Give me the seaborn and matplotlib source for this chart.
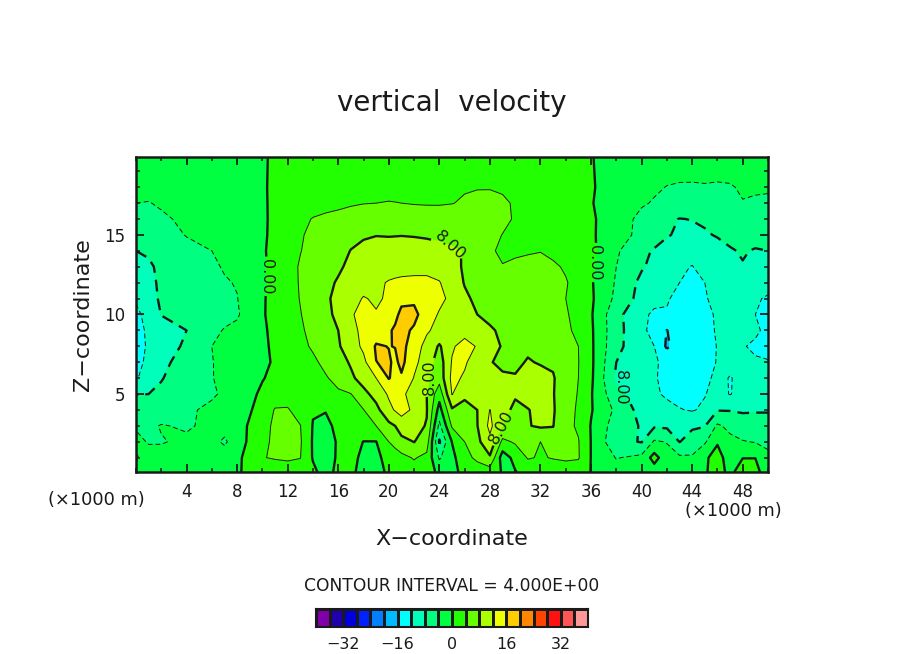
import numpy as np
import matplotlib
matplotlib.use('Agg')
import matplotlib.pyplot as plt
import seaborn as sns
from matplotlib.colors import ListedColormap, BoundaryNorm
from matplotlib.ticker import MultipleLocator

# grid (x in km, z in km, top row first)
x_km = [0, 1, 2, 4, 6, 7, 8, 10, 11, 12, 13, 14, 15, 16, 17, 18, 19, 20, 20.5, 21, 22, 23, 24, 25,
        26, 27, 28, 29, 30, 31, 32, 33, 34, 35, 36, 38, 40, 41, 42, 43, 44, 45, 46, 47, 48, 49, 50]
z_km = [19.9, 18, 17, 16, 15, 14, 13, 12, 11, 10, 9, 8, 7, 6, 5, 4, 3, 2, 1, 0.1]

w_rows = [
    [-2.5,-2.5,-2.4,-2,-1.6,-1.3,-1,-.3,.4,1,1.2,1.4,1.6,1.8,2,2.1,2.2,2.3,2.35,2.4,2.5,2.5,2.5,2.5,2.5,2.5,2.4,2.2,2,1.8,1.6,1.3,1,.7,.1,-.9,-1.6,-1.9,-2.2,-2.4,-2.5,-2.6,-2.6,-2.6,-2.6,-2.7,-2.8],
    [-3.2,-3.2,-3.2,-2.8,-2.2,-1.8,-1.4,-.3,.5,1.2,1.6,2,2.3,2.6,2.9,3.1,3.2,3.3,3.35,3.4,3.4,3.4,3.5,3.6,3.7,3.8,3.8,3.5,3,2.6,2.2,1.7,1.2,.7,.3,-1.5,-3,-3.5,-4.1,-4.3,-4.3,-4.2,-4.3,-4.2,-3.7,-3.8,-3.8],
    [-4,-4.1,-3.7,-3,-2.4,-2,-1.6,-.4,.6,1.4,1.9,2.3,2.7,3.1,3.6,3.9,4,4.1,4.05,4,3.8,3.7,3.7,3.9,4.4,5,5.1,4.6,3.6,2.9,2.4,1.8,1.2,.7,.2,-1.9,-3.6,-4.3,-5,-5.5,-5.6,-5.3,-5.3,-4.9,-4.1,-4.2,-4.3],
    [-5,-5,-4.4,-3.5,-2.8,-2.4,-1.9,-.5,.7,1.8,3,4.2,4.8,5.2,5.6,5.9,6.1,6.2,6.2,6.2,6.1,6,5.9,5.9,6,6,5.9,5,3.6,3,2.6,2,1.4,.8,.5,-2,-5,-6,-7.3,-8.1,-7.9,-7.6,-7,-6.2,-5.5,-5.5,-5.5],
    [-6.5,-6.3,-5,-3.9,-3.2,-2.7,-2,-.5,.8,2,3.7,4.7,5.4,6.2,7,7.6,7.9,7.8,7.85,7.9,7.8,7.6,7.2,6.8,6.6,6.2,5.2,3.9,3.2,2.9,2.6,2.1,1.5,1,.6,-2.6,-4.9,-6,-7.7,-8.6,-8.8,-8.3,-7.8,-7.1,-6.6,-6.5,-6.5],
    [-8,-7.4,-6,-4.7,-4,-3.2,-2.3,-.4,1,2.5,3.9,5,5.7,6.8,8.1,8.9,9.3,9.5,9.5,9.5,9.4,9.3,9.1,8.5,7.8,5.6,4.3,3.6,3.5,3.7,3.9,3.4,2.8,1.6,.9,-3.5,-7,-8.4,-9.5,-10.5,-11,-9.8,-9,-8.3,-7.7,-8.3,-8],
    [-10,-8.7,-7,-5,-4.6,-3.7,-2.8,-.6,1.1,2.8,4.3,5,6.3,7.4,8.9,9.8,10.6,10.9,11,11,11,11,10.5,9.3,7.5,6.5,5,4.1,4.6,4.9,5,4.4,3.7,2.4,.6,-4,-7.6,-9,-11,-11.6,-12.1,-11,-10,-9,-8.2,-8.9,-9],
    [-10.8,-9.2,-7.2,-5.8,-4.9,-4.3,-3.8,-.6,1.2,3,4.2,5.4,7,8.4,9.9,10.8,11.5,12.2,12.4,12.6,12.8,12.8,12.2,10,7.8,6.7,6.2,5.9,5.8,5.7,5.6,5,4.2,3,.4,-4.4,-9,-10,-11,-12,-13,-12,-11,-10.3,-9.5,-10,-10.4],
    [-11.5,-9.3,-7.5,-6.4,-5.6,-4.9,-4.1,-.4,1.2,3,4.1,5.4,7.4,9,10.9,12.2,11.6,12.4,14,15,15.3,14.8,13,11,8.6,7.3,6.8,6.4,6.2,6,5.7,5,4,3,.6,-4.9,-9.5,-11,-11.9,-12.3,-13.6,-12.3,-11,-10.2,-10,-11.5,-12.5],
    [-13,-10.5,-7.9,-7,-5.6,-4.9,-4.4,-.3,1,2.2,3.9,5,7,8.9,11.8,12.6,12.2,13.6,15,17,17,14,11.6,10.4,9.2,8,7,6.5,6.3,6,5.8,5,4.3,3,.4,-6.8,-11.2,-12.6,-12.1,-13,-14,-13,-11.5,-10.6,-10.3,-12,-13],
    [-14,-11,-9.5,-8,-4.8,-3.8,-3.2,-.5,.8,1.8,3.6,4.8,6.3,8,10.8,13,14,15.5,16.6,17,15.5,12.4,11,11,10.5,9.6,8.5,7.3,6.6,6.4,6,5.3,4.5,3.4,.6,-6.7,-11,-13.5,-16.1,-14,-14.5,-13.6,-11.5,-10.5,-10.3,-11,-13.5],
    [-15,-11,-9.5,-7.5,-4,-3.2,-2.5,-.6,.6,1.5,3.2,4.4,5.8,7.6,10,12.8,16.4,15.9,16.1,17.5,13.5,11,7.5,11.5,13.5,11.7,9,7.8,7,7.3,6.6,6,5,4,.7,-7,-10.5,-12,-16.6,-14,-14.8,-14,-11.8,-10.6,-11.6,-13,-13],
    [-14,-10.5,-8.9,-6.5,-4.1,-3.3,-2.6,-.7,.4,1.2,2.6,3.4,4.8,6.2,8.5,11,15.95,16.5,15.2,17,13,10,6,12.3,12.5,10,8.2,7.3,7.2,8.3,7.7,7.5,5.6,4.1,.8,-8,-10.5,-11.6,-12.8,-13.5,-14.5,-14,-11.7,-11,-10.8,-11.3,-11.8],
    [-12.5,-9.6,-8.2,-6,-4.1,-3.4,-2.7,-.2,.9,1.5,2,2.6,3.7,5,7.2,9.7,12,16.2,15,15.5,11.8,8.7,5.5,13,11.5,9.6,9,8.5,8.3,9.6,9.3,8.3,5.8,4,.7,-8.7,-11,-11.8,-12.6,-13.6,-14,-13,-11,-12.2,-11,-10.7,-10.8],
    [-8.1,-8,-7.3,-5.2,-4.5,-3.4,-2.5,.7,1.8,2.5,2.5,2.6,3,3.5,3.9,6.8,9.5,12.5,13,13,10,8,1.5,12.2,8.3,8.2,8.6,8.4,8.2,8.9,9,8.2,5.6,3.8,.3,-6.8,-10,-11.5,-12.5,-13.2,-13.5,-12.2,-10.5,-12.2,-10.5,-9.5,-9.2],
    [-6.5,-6.2,-5.9,-4.6,-3.2,-2.5,-1.7,1.2,4.3,4.3,2.5,.3,.2,1.5,3,3.9,6.8,11,12.3,13,11.5,8.2,-1.5,7.5,7.5,8,12.1,8.6,7.6,7.9,8.6,8.4,5.2,3.6,.3,-4.8,-9.5,-9.5,-11,-11.8,-12.3,-11.3,-8.2,-8.2,-8.5,-8.3,-8.2],
    [-4.3,-4.7,-3.8,-4.4,-3.2,-2.6,-1.6,2.5,4.8,5.2,4.1,-.2,-1,1,2.5,3.2,4,7,8,10.5,9,7.8,-5,4.5,7,7.9,13,7.9,6.8,7.8,8.5,8.1,5,3.5,-.2,-6,-8.3,-8.5,-8.7,-8.2,-8.5,-8.2,-3.4,-5,-6,-6.5,-7],
    [-3.3,-4.2,-4.2,-3.4,-2.9,-4.6,-2,3.5,4.4,5,4.4,-.4,-1.6,.4,1.8,-.1,-.1,4,5.2,6.5,8.1,6,-8.5,.1,4,7,11,3,4.5,5.8,4,6.5,5,4.2,-.1,-7,-8.2,-3.5,-4.2,-8.1,-6.5,-4.5,-.3,-3,-3.8,-4.2,-5],
    [-4.3,-3,-2.9,-2.4,-2,-2,-.9,3.9,4.2,4.3,4.1,-.3,-2,.6,1.3,-1,-1,1.5,2.2,3,4.3,3,-4.5,-1,2.5,5,7.5,-2,1.2,4.3,3.7,4.2,4.3,4.3,-.1,-4.2,-3,1.5,-2.5,-3.3,-3.5,-.5,1.2,-1.5,-.1,-.1,-3],
    [-3.3,-2.8,-2.6,-2.3,-1.8,-1.8,-.3,1.5,2.5,3,2.2,.8,-1.5,1,1.2,-2,-1.6,.8,1.3,1.8,2.4,2,-1,-.5,.5,1.5,2,-.3,-.2,1.5,1,2,3,2,-.1,-2.5,-2.2,-2,-2,-2,-2,-.4,1.5,-1,2,2,-3.5],
]

level_step = 4
level_min = -40
level_max = 40
colour_list = ['#7f00aa', '#2000aa', '#0000dd', '#0022ff', '#0080ff', '#00bbff', '#00ffff',
               '#00ffbb', '#00ff80', '#00ff40', '#22ff00', '#66ff00', '#aaff00', '#eeff00',
               '#ffcc00', '#ff8800', '#ff4400', '#ff1111', '#ff5555', '#ff9999']
bar_ticks = [-32, -16, 0, 16, 32]
x_tick_labels = [4, 8, 12, 16, 20, 24, 28, 32, 36, 40, 44, 48]

sns.set_theme(style='white', rc={
    'xtick.direction': 'in', 'ytick.direction': 'in',
    'xtick.top': True, 'ytick.right': True,
    'xtick.bottom': True, 'ytick.left': True,
    'font.family': ['DejaVu Sans'],
})

W, H = 904, 654
fig = plt.figure(figsize=(W / 100, H / 100), dpi=100)
ax = fig.add_axes([136 / W, 1 - 472 / H, 632 / W, 315 / H])

x = np.array(x_km)
z = np.array(z_km)[::-1]
w = np.array(w_rows, dtype=float)[::-1]

levels = np.arange(level_min, level_max + level_step, level_step)
cmap = ListedColormap(colour_list)
norm = BoundaryNorm(levels, cmap.N)
ax.contourf(x, z, w, levels=levels, cmap=cmap, norm=norm)

thin = [-12, -4, 4, 12]
dash = (0, (5, 3))
ax.contour(x, z, w, levels=thin, colors='k', linewidths=0.7,
           linestyles=[dash if v < 0 else 'solid' for v in thin])
ax.contour(x, z, w, levels=[-16, 16], colors='k', linewidths=1.7, linestyles=[dash, 'solid'])
cs = ax.contour(x, z, w, levels=[-8, 0, 8], colors='k', linewidths=1.7,
                linestyles=[dash, 'solid', 'solid'])

# line labels, rotation set by hand to match the picture
label_spots = [(10.6, 12.4), (37.0, 13.2), (24.6, 13.8), (23.5, 6.0), (28.9, 2.9), (38.7, 5.7)]
label_rot = [-90, -90, -42, 90, 62, -90]
texts = ax.clabel(cs, manual=label_spots, inline=True, inline_spacing=2,
                  fmt=lambda v: f'{abs(v):.2f}', fontsize=11.5)
for t, r in zip(texts, label_rot):
    t.set_rotation(r)
    t.set_color('k')

ax.set_xlim(0, 50)
ax.set_ylim(0.1, 19.9)
ax.set_axisbelow(False)
ax.xaxis.set_major_locator(MultipleLocator(4))
ax.xaxis.set_minor_locator(MultipleLocator(2))
ax.yaxis.set_major_locator(MultipleLocator(5))
ax.yaxis.set_minor_locator(MultipleLocator(1))
ax.set_xticks(x_tick_labels)
ax.tick_params(which='major', length=6, width=1.3, labelsize=12, color='k', labelcolor='k',
               top=True, right=True, bottom=True, left=True, pad=8)
ax.tick_params(which='minor', length=3, width=1.1, color='k',
               top=True, right=True, bottom=True, left=True)
for s in ax.spines.values():
    s.set_visible(True)
    s.set_color('k')
    s.set_linewidth(1.8)

fig.text(452 / W, 1 - 103 / H, 'vertical  velocity', ha='center', va='center', fontsize=20, color='k')
fig.text(452 / W, 1 - 539 / H, 'X\u2212coordinate', ha='center', va='center', fontsize=16, color='k')
fig.text(83 / W, 1 - 315 / H, 'Z\u2212coordinate', ha='center', va='center', rotation=90, fontsize=16, color='k')
fig.text(96 / W, 1 - 500 / H, '(\u00d71000 m)', ha='center', va='center', fontsize=12.8, color='k')
fig.text(733 / W, 1 - 511 / H, '(\u00d71000 m)', ha='center', va='center', fontsize=12.8, color='k')
fig.text(452 / W, 1 - 586 / H, 'CONTOUR INTERVAL = 4.000E+00', ha='center', va='center', fontsize=12.3, color='k')

# colour key drawn as a one row heatmap
cax = fig.add_axes([316 / W, 1 - 627 / H, 272 / W, 18 / H])
centres = (levels[:-1] + levels[1:]) / 2
sns.heatmap(centres[np.newaxis, :], cmap=cmap, norm=norm, cbar=False, linewidths=1.0,
            linecolor='k', xticklabels=False, yticklabels=False, ax=cax)
cax.set_xticks([(v - level_min) / level_step for v in bar_ticks])
cax.set_xticklabels([str(v).replace('-', '\u2212') for v in bar_ticks], fontsize=11.5, color='k')
cax.tick_params(axis='x', length=0, pad=7, top=False, bottom=False)
cax.tick_params(axis='y', length=0, left=False, right=False)
for s in cax.spines.values():
    s.set_visible(True)
    s.set_color('k')
    s.set_linewidth(1.5)

fig.savefig('out.png', dpi=100)
